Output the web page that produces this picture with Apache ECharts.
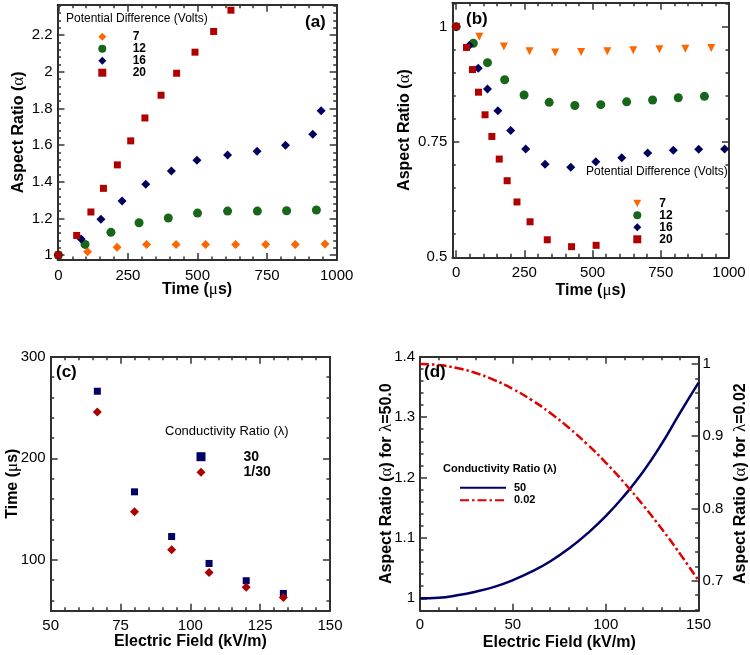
<!DOCTYPE html>
<html><head><meta charset="utf-8">
<script src="https://cdn.jsdelivr.net/npm/echarts@6/dist/echarts.min.js"></script>
<style>html,body{margin:0;padding:0;background:#fff}#c{width:750px;height:655px}</style>
</head><body><div id="c"></div>
<script>
// ---------- (a) Potential difference, aspect ratio growth ----------
const aX7  = [0,105,211,317,423,529,637,745,851,958];
const aY7  = [1,1.018,1.042,1.058,1.058,1.058,1.058,1.058,1.058,1.06];
const aX12 = [0,96,189,290,395,500,608,715,820,927];
const aY12 = [1,1.058,1.124,1.176,1.202,1.229,1.240,1.240,1.242,1.246];
const aX16 = [0,82,153,229,314,406,498,608,714,816,914,944];
const aY16 = [1,1.087,1.195,1.295,1.386,1.459,1.517,1.546,1.566,1.599,1.659,1.788];
const aX20 = [0,66,117,162,212,260,311,369,425,491,558,620];
const aY20 = [1,1.107,1.235,1.364,1.492,1.623,1.748,1.872,1.992,2.107,2.220,2.336];
const aXTicks = [0,250,500,750,1000];
const aYTicks = [1,1.2,1.4,1.6,1.8,2,2.2];
// ---------- (b) ----------
const bX7  = [0,85,175,269,363,458,554,649,745,840,935];
const bY7  = [1,0.978,0.957,0.947,0.944,0.945,0.947,0.949,0.951,0.952,0.954];
const bX12 = [0,63,115,178,249,341,435,530,625,720,814,910];
const bY12 = [1,0.964,0.922,0.885,0.852,0.836,0.829,0.831,0.837,0.841,0.846,0.849];
const bX16 = [0,48,81,115,153,200,255,326,420,512,607,702,796,889,984];
const bY16 = [1,0.959,0.910,0.865,0.818,0.775,0.735,0.702,0.695,0.707,0.716,0.726,0.732,0.734,0.735];
const bX20 = [0,38,60,82,106,131,158,187,223,271,334,423,513];
const bY20 = [1,0.955,0.907,0.858,0.809,0.762,0.713,0.666,0.620,0.577,0.538,0.523,0.526];
const bXTicks = [0,250,500,750,1000];
const bYTicks = [0.5,0.75,1];
// ---------- (c) ----------
const cField = [66.7,80,93.3,106.7,120,133.3];
const cT30   = [266,167,123,96.5,79.5,67];
const cT130  = [245.5,147.5,110,87.5,73,63];
const cXTicks = [50,75,100,125,150];
const cYTicks = [100,200,300];
// ---------- (d) ----------
const dField = [0,10,20,30,40,50,60,70,80,90,100,110,120,130,140,150];
const dA50   = [1.000,1.001,1.005,1.011,1.019,1.030,1.044,1.061,1.082,1.107,1.136,1.170,1.209,1.255,1.307,1.357];
const dA002  = [1.000,0.9986,0.9944,0.9875,0.9778,0.9654,0.9503,0.9325,0.912,0.889,0.8635,0.8354,0.805,0.7722,0.7372,0.700];
const dXTicks = [0,50,100,150];
const dYLTicks = [1,1.1,1.2,1.3,1.4];
const dYRTicks = [0.7,0.8,0.9,1];

const FONT = '"Liberation Sans", Arial, sans-serif';
const zip = (xs, ys) => xs.map((x, i) => [x, ys[i]]);
function minors(min, max, step) {
  const out = [];
  for (let v = Math.ceil(min / step - 1e-9) * step; v <= max + 1e-9; v += step) out.push(+v.toFixed(6));
  return out;
}
const nameStyle = {
  fontSize: 16, fontWeight: 'bold', fontFamily: FONT, color: '#000',
  rich: {
    b: { fontSize: 16, fontWeight: 'bold', fontFamily: FONT, color: '#000' },
    g: { fontSize: 17, fontWeight: 'normal', fontFamily: '"Liberation Serif", serif', color: '#000' }
  }
};
function ax(gi, pos, min, max, ticks, len, showLabel, extra) {
  return Object.assign({
    type: 'value', gridIndex: gi, position: pos, min: min, max: max,
    axisLine: { show: true, onZero: false, lineStyle: { color: '#222', width: 1.5 } },
    splitLine: { show: false }, minorTick: { show: false },
    axisTick: { show: true, inside: true, length: len, customValues: ticks, lineStyle: { color: '#333', width: 1.5 } },
    axisLabel: { show: showLabel, customValues: ticks, margin: 5, fontSize: 15, color: '#000', fontFamily: FONT,
      formatter: v => String(+(+v).toFixed(4)) },
    nameMoveOverlap: false
  }, extra || {});
}
const MAJ = 7, MIN = 3.5;
const X = [], Y = [];
function push(arr, o) { arr.push(o); return arr.length - 1; }
function xSet(gi, min, max, ticks, mstep, name, gap, lm) {
  const i = push(X, ax(gi, 'bottom', min, max, ticks, MAJ, true,
    { name: name, nameLocation: 'middle', nameGap: gap, nameTextStyle: nameStyle }));
  X[i].axisLabel.margin = lm;
  push(X, ax(gi, 'top', min, max, ticks, MAJ, false));
  const m = minors(min, max, mstep);
  push(X, ax(gi, 'bottom', min, max, m, MIN, false));
  push(X, ax(gi, 'top', min, max, m, MIN, false));
  return i;
}
function ySet(gi, min, max, ticks, mstep, name, gap) {
  const i = push(Y, ax(gi, 'left', min, max, ticks, MAJ, true,
    { name: name, nameLocation: 'middle', nameGap: gap, nameRotate: 90, nameTextStyle: nameStyle }));
  push(Y, ax(gi, 'right', min, max, ticks, MAJ, false));
  const m = minors(min, max, mstep);
  push(Y, ax(gi, 'left', min, max, m, MIN, false));
  push(Y, ax(gi, 'right', min, max, m, MIN, false));
  return i;
}

const grids = [
  { left: 57.5, top: 4.7, width: 279.2, height: 255.3 },
  { left: 452.3, top: 2.7, width: 276.7, height: 254.6 },
  { left: 50.7, top: 356.7, width: 279.3, height: 254 },
  { left: 420, top: 356.7, width: 279.3, height: 254 }
].map(g => Object.assign(g, { show: false, containLabel: false }));

const timeName = '{b|Time (}{g|μ}{b|s)}';
const arName = '{b|Aspect Ratio (}{g|α}{b|)}';
const efName = 'Electric Field (kV/m)';

const axA = xSet(0, -3, 1000, aXTicks, 50, timeName, 21, 8);
const ayA = ySet(0, 0.973, 2.366, aYTicks, 0.04, arName, 30.5);
const axB = xSet(1, -14, 1000, bXTicks, 50, timeName, 24.7, 8);
const ayB = ySet(1, 0.5, 1.052, bYTicks, 0.05, arName, 39.3);
const axC = xSet(2, 50, 150, cXTicks, 5, efName, 23, 8);
const ayC = ySet(2, 50, 300, cYTicks, 20, timeName, 30);
const axD = xSet(3, 0, 150, dXTicks, 10, efName, 24, 7);
const ayD = push(Y, ax(3, 'left', 0.9795, 1.4, dYLTicks, MAJ, true,
  { name: '{b|Aspect Ratio (}{g|α}{b|) for }{g|λ}{b|=50.0}', nameLocation: 'middle', nameGap: 24.5, nameRotate: 90, nameTextStyle: nameStyle }));
const ayD2 = push(Y, ax(3, 'right', 0.6585, 1.0101, dYRTicks, MAJ, true,
  { name: '{b|Aspect Ratio (}{g|α}{b|) for }{g|λ}{b|=0.02}', nameLocation: 'middle', nameGap: 33.4, nameRotate: 90, nameTextStyle: nameStyle }));
push(Y, ax(3, 'left', 0.9795, 1.4, minors(0.9795, 1.4, 0.02), MIN, false));
push(Y, ax(3, 'right', 0.6585, 1.0101, minors(0.6585, 1.0101, 0.02), MIN, false));
Y[ayD].axisLabel.margin = 5;
Y[ayD2].axisLabel.margin = 4;

const C_OR = '#ff6600', C_GR = '#17661a', C_NV = '#00005e', C_RD = '#b00000';
function sc(name, xi, yi, xs, ys, sym, size, color, rot) {
  return { type: 'scatter', name: name, xAxisIndex: xi, yAxisIndex: yi, symbol: sym, symbolSize: size,
    symbolRotate: rot || 0, itemStyle: { color: color, opacity: 1 }, data: zip(xs, ys), silent: true };
}
const series = [
  sc('a:7', axA, ayA, aX7, aY7, 'diamond', 9, C_OR),
  sc('a:12', axA, ayA, aX12, aY12, 'circle', 9, C_GR),
  sc('a:16', axA, ayA, aX16, aY16, 'diamond', 9, C_NV),
  sc('a:20', axA, ayA, aX20, aY20, 'rect', 7, C_RD),
  sc('b:7', axB, ayB, bX7, bY7, 'triangle', 8, C_OR, 180),
  sc('b:12', axB, ayB, bX12, bY12, 'circle', 9, C_GR),
  sc('b:16', axB, ayB, bX16, bY16, 'diamond', 9, C_NV),
  sc('b:20', axB, ayB, bX20, bY20, 'rect', 7, C_RD),
  sc('c:30', axC, ayC, cField, cT30, 'rect', 7, '#000066'),
  sc('c:1/30', axC, ayC, cField, cT130, 'diamond', 9, '#aa0000'),
  { type: 'line', name: 'd:50', xAxisIndex: axD, yAxisIndex: ayD, data: zip(dField, dA50), smooth: true,
    symbol: 'none', lineStyle: { color: '#000066', width: 2.5 }, itemStyle: { color: '#000066' }, silent: true },
  { type: 'line', name: 'd:0.02', xAxisIndex: axD, yAxisIndex: ayD2, data: zip(dField, dA002), smooth: true,
    symbol: 'none', lineStyle: { color: '#e00000', width: 2.5, type: [9, 3, 2.5, 3] }, itemStyle: { color: '#e00000' }, silent: true }
];

const TRI_DOWN = 'path://M0,0L10,0L5,9Z';
function lg(names, left, top, w, h, fs, lh, padL, extra) {
  return Object.assign({ data: names, orient: 'vertical', left: left, top: top, itemWidth: w, itemHeight: h, itemGap: 0,
    padding: 0, selectedMode: false, formatter: n => n.split(':')[1],
    textStyle: { fontSize: fs, fontWeight: 'bold', lineHeight: lh, fontFamily: FONT, color: '#000', padding: [0, 0, 0, padL] } }, extra || {});
}
const legends = [
  lg(['a:7', 'a:12', 'a:16', 'a:20'], 98.3, 30.7, 8, 8, 12, 12, 21.4),
  lg([{ name: 'b:7', icon: TRI_DOWN }, 'b:12', 'b:16', 'b:20'], 633.3, 197.3, 8, 8, 12, 12, 13),
  lg(['c:30', 'c:1/30'], 196.5, 448.9, 9, 9, 14, 15.6, 33),
  lg(['d:50', 'd:0.02'], 459, 481.4, 46, 12, 11, 12.6, 3,
    { itemStyle: { color: 'rgba(0,0,0,0)', borderWidth: 0, opacity: 0 } })
];

function tt(text, left, top, fs, fw) {
  return { text: text, left: left, top: top, padding: 0,
    textStyle: { fontSize: fs, fontWeight: fw, fontFamily: FONT, color: '#000' } };
}
const titles = [
  tt('(a)', 305, 14, 17, 'bold'),
  tt('Potential Difference (Volts)', 66, 13, 12, 'normal'),
  tt('(b)', 466, 11, 17, 'bold'),
  tt('Potential Difference (Volts)', 586, 166, 12, 'normal'),
  tt('(c)', 56, 364, 17, 'bold'),
  tt('Conductivity Ratio (λ)', 165, 425, 13, 'normal'),
  tt('(d)', 424, 364, 17, 'bold'),
  tt('Conductivity Ratio (λ)', 443, 463, 11, 'bold')
];

const chart = echarts.init(document.getElementById('c'), null, { renderer: 'canvas' });
chart.setOption({
  animation: false, backgroundColor: '#fff',
  grid: grids, xAxis: X, yAxis: Y, series: series, legend: legends, title: titles
});
</script></body></html>
